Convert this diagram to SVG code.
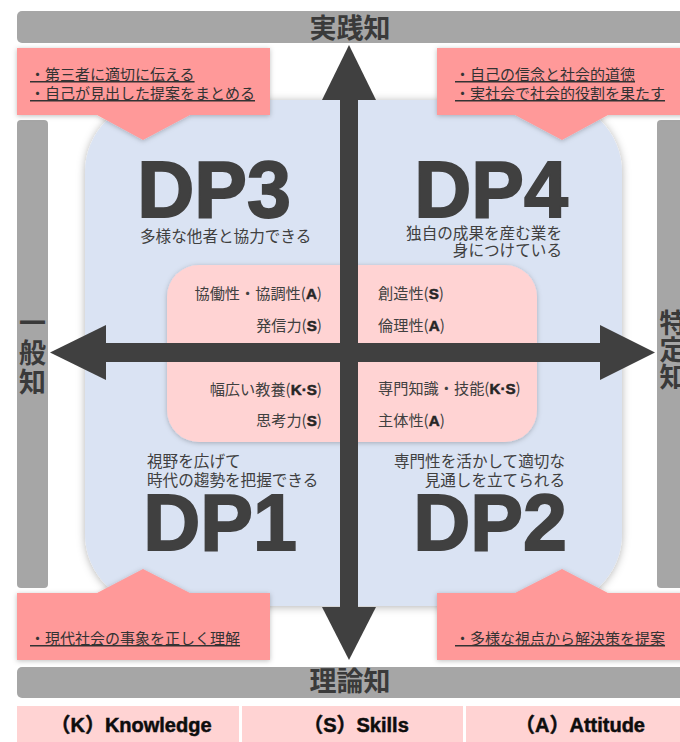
<svg xmlns="http://www.w3.org/2000/svg" width="680" height="742" viewBox="0 0 680 742">
<defs>
<filter id="sh" x="-10%" y="-10%" width="120%" height="120%">
<feDropShadow dx="0" dy="1" stdDeviation="4" flood-color="#000" flood-opacity="0.3"/>
</filter>
<filter id="sh2" x="-10%" y="-20%" width="120%" height="140%">
<feDropShadow dx="0" dy="1" stdDeviation="2.5" flood-color="#000" flood-opacity="0.25"/>
</filter>
<style>
.bar{fill:#A6A6A6}
.axis{font-family:"Noto Sans CJK JP",sans-serif;font-weight:bold;font-size:27px;fill:#3A3A3A;text-anchor:middle}
.dp{font-family:"Liberation Sans",Arial,sans-serif;font-weight:bold;font-size:79px;fill:#404040;text-anchor:middle;stroke:#404040;stroke-width:1.8}
.sub{font-family:"Noto Sans CJK JP",sans-serif;font-size:15.6px;fill:#404040}
.in{font-family:"Noto Sans CJK JP",sans-serif;font-size:15.2px;fill:#404040}
.b{font-family:"Liberation Sans",Arial,sans-serif;font-weight:bold;fill:#262626;stroke:#262626;stroke-width:0.5}
.call{fill:#FF9999}
.ct{font-family:"Noto Sans CJK JP",sans-serif;font-size:15px;fill:#333;text-decoration:underline}
.leg{fill:#FFD3D3}
.lt{font-family:"Liberation Sans","Noto Sans CJK JP",sans-serif;font-weight:bold;font-size:20px;fill:#0D0D0D;text-anchor:middle;stroke:#0D0D0D;stroke-width:0.5}
.arr{fill:#404040}
</style>
</defs>
<rect width="680" height="742" fill="#FFFFFF"/>

<g id="top-bar"><rect class="bar" x="17" y="11" width="690" height="32" rx="5"/><text class="axis" x="350" y="37.5">実践知</text></g>
<g id="bottom-bar"><rect class="bar" x="17" y="667" width="690" height="31" rx="5"/><text class="axis" x="350" y="691">理論知</text></g>
<g id="left-bar"><rect class="bar" x="17" y="120" width="31" height="468" rx="4"/>
<text class="axis" x="32.5" y="333">一</text><text class="axis" x="32.5" y="362.5">般</text><text class="axis" x="32.5" y="391.5">知</text></g>
<g id="right-bar"><rect class="bar" x="657" y="120" width="40" height="468" rx="4"/>
<text class="axis" font-size="26" x="673" y="333">特</text><text class="axis" font-size="26" x="673" y="360">定</text><text class="axis" font-size="26" x="673" y="386.5">知</text></g>

<g id="quadrant-area"><rect x="85" y="100" width="537" height="506" rx="72" fill="#DAE3F3" filter="url(#sh)"/></g>
<g id="core"><rect x="167" y="265" width="370" height="177" rx="32" fill="#FFD3D3" filter="url(#sh2)"/>
<text class="in" x="322" y="299" text-anchor="end">協働性・協調性(<tspan class="b">A</tspan>)</text>
<text class="in" x="322" y="331" text-anchor="end">発信力(<tspan class="b">S</tspan>)</text>
<text class="in" x="322" y="395" text-anchor="end">幅広い教養(<tspan class="b">K·S</tspan>)</text>
<text class="in" x="322" y="426" text-anchor="end">思考力(<tspan class="b">S</tspan>)</text>
<text class="in" x="378" y="299">創造性(<tspan class="b">S</tspan>)</text>
<text class="in" x="378" y="331">倫理性(<tspan class="b">A</tspan>)</text>
<text class="in" x="378" y="394">専門知識・技能(<tspan class="b">K·S</tspan>)</text>
<text class="in" x="378" y="426">主体性(<tspan class="b">A</tspan>)</text>
</g>

<g id="dp3"><text class="dp" x="214" y="217">DP3</text><text class="sub" x="140" y="242">多様な他者と協力できる</text></g>
<g id="dp4"><text class="dp" x="491" y="217">DP4</text><text class="sub" x="562" y="239" text-anchor="end">独自の成果を産む業を</text><text class="sub" x="562" y="256" text-anchor="end">身につけている</text></g>
<g id="dp1"><text class="sub" x="147" y="467">視野を広げて</text><text class="sub" x="147" y="486">時代の趨勢を把握できる</text><text class="dp" x="220" y="550">DP1</text></g>
<g id="dp2"><text class="sub" x="565" y="467" text-anchor="end">専門性を活かして適切な</text><text class="sub" x="565" y="486" text-anchor="end">見通しを立てられる</text><text class="dp" x="490" y="550">DP2</text></g>

<g id="connectors">
<rect class="arr" x="340" y="98" width="18" height="511"/>
<polygon class="arr" points="322,100 349,45 376,100"/>
<polygon class="arr" points="322,607 349,660 376,607"/>
<rect class="arr" x="104" y="343" width="497" height="19"/>
<polygon class="arr" points="106,325 50,352.5 106,380"/>
<polygon class="arr" points="600,325 655,352.5 600,380"/>
</g>

<g id="callout-tl"><path class="call" filter="url(#sh2)" d="M17,48 H270 V115 H190 L143,140 L97,115 H17 Z"/>
<text class="ct" x="30" y="80">・第三者に適切に伝える</text><text class="ct" x="30" y="99">・自己が見出した提案をまとめる</text></g>
<g id="callout-tr"><path class="call" filter="url(#sh2)" d="M437,48 H690 V115 H608 L562,140 L515,115 H437 Z"/>
<text class="ct" x="455" y="80">・自己の信念と社会的道徳</text><text class="ct" x="455" y="99">・実社会で社会的役割を果たす</text></g>
<g id="callout-bl"><path class="call" filter="url(#sh2)" d="M17,593 H97 L143,569 L190,593 H270 V660 H17 Z"/>
<text class="ct" x="30" y="644">・現代社会の事象を正しく理解</text></g>
<g id="callout-br"><path class="call" filter="url(#sh2)" d="M437,593 H515 L562,569 L608,593 H690 V660 H437 Z"/>
<text class="ct" x="455" y="644">・多様な視点から解決策を提案</text></g>

<g id="legend">
<rect class="leg" x="17" y="706" width="222" height="40"/>
<rect class="leg" x="242" y="706" width="221" height="40"/>
<rect class="leg" x="466" y="706" width="220" height="40"/>
<text class="lt" x="131" y="732">（K）Knowledge</text>
<text class="lt" x="356" y="732">（S）Skills</text>
<text class="lt" x="580" y="732">（A）Attitude</text>
</g>
</svg>
